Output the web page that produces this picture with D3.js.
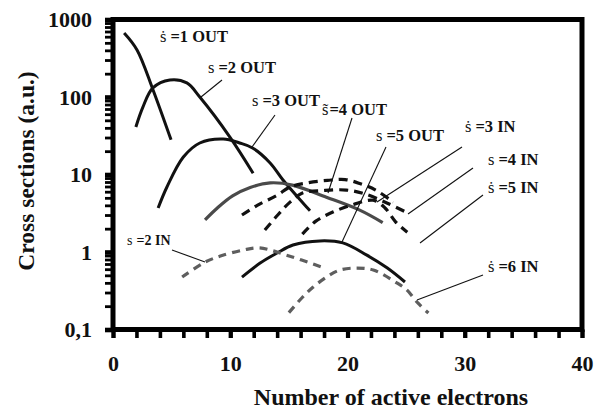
<!DOCTYPE html>
<html><head><meta charset="utf-8">
<script src="https://cdn.jsdelivr.net/npm/d3@7"></script>
<style>
html,body{margin:0;padding:0;background:#fff;}
svg{display:block;font-family:"Liberation Serif","Times New Roman",serif;}
</style></head>
<body>
<script>
// ---- data (x = number of active electrons, y = cross section, a.u.) ----
const s1Out = [[0.95,670],[2.05,405],[3.4,125],[4.95,28]];
const s2Out = [[1.95,41],[2.55,74],[3.4,131],[4.85,166],[6.3,152],[7.4,100],[10,30],[11.95,10.4]];
const s3Out = [[3.85,3.7],[4.6,6.9],[6,16.8],[7.4,25.5],[9.4,28.7],[10.8,25.5],[11.9,22],[13.4,14.1],[14.5,8.5],[16.8,3.4]];
const s4Out = [[7.85,2.6],[8.9,3.7],[10.2,5.3],[11.7,6.8],[13.4,7.8],[15.3,7.3],[18.2,5.1],[21,3.5],[23,2.4]];
const s5Out = [[11,0.475],[12.55,0.72],[14,0.97],[15.35,1.23],[17.65,1.39],[19.6,1.31],[21.65,0.91],[23.4,0.62],[24.9,0.41]];
const s2In  = [[5.9,0.475],[7.85,0.74],[9.1,0.88],[11.1,1.06],[12.5,1.13],[14.8,0.91],[17.8,0.64]];
const s3In  = [[11,3.0],[12.3,4.0],[14,5.4],[15.1,6.9],[16.6,7.8],[18.3,8.4],[19.8,8.6],[21.1,7.6],[22.4,6.3],[23.9,4.4]];
const s4In  = [[12.95,1.92],[14.05,3.0],[15.1,4.4],[16.2,5.8],[17.9,6.2],[19.9,6.3],[21.5,5.6],[23.5,4.2],[25.1,3.2]];
const s5In  = [[16.15,1.7],[17.3,2.5],[18.8,3.3],[20.5,4.1],[22.2,4.65],[23.2,3.7],[24.1,2.45],[25.1,1.8]];
const s6In  = [[15,0.165],[16.1,0.255],[17.05,0.35],[18.25,0.48],[19.35,0.585],[20.8,0.62],[22.2,0.585],[24.2,0.40],[25.05,0.325],[26,0.22],[26.9,0.163]];

const xTickValues = [0,10,20,30,40];
const xTickLabels = ["0","10","20","30","40"];
const yTickValues = [0.1,1,10,100,1000];
const yTickLabels = ["0,1","1","10","100","1000"];
const xTitle = "Number of active electrons";
const yTitle = "Cross sections (a.u.)";

// series labels: [accented s, rest]
const labelS    = ["ṡ","s","s","s̃","s","ṡ","s","ṡ","ṡ","s"];
const labelText = ["=1 OUT","=2 OUT","=3 OUT","=4 OUT","=5 OUT","=3 IN","=4 IN","=5 IN","=6 IN","=2 IN"];

// ---- layout ----
const W = 603, H = 410;
const L = 113, R = 582, T = 19.5, B = 329.5;
const ink = "#000";
const fw = 5;

const svg = d3.select("body").append("svg").attr("width", W).attr("height", H);

const x = d3.scaleLinear().domain([0,40]).range([L,R]);
const y = d3.scaleLog().domain([0.1,1000]).range([B,T]);

// curves
const line = d3.line().x(d => x(d[0])).y(d => y(d[1])).curve(d3.curveCatmullRom.alpha(0.5));
const series = [
  {d:s1Out, c:"#111", w:3, dash:null},
  {d:s2Out, c:"#111", w:3, dash:null},
  {d:s3Out, c:"#111", w:3, dash:null},
  {d:s4Out, c:"#4a4a4a", w:3.2, dash:null},
  {d:s5Out, c:"#111", w:3, dash:null},
  {d:s2In,  c:"#5e5e5e", w:3.2, dash:"8,6"},
  {d:s6In,  c:"#5e5e5e", w:3.2, dash:"8,6"},
  {d:s3In,  c:"#111", w:3.2, dash:"9,6"},
  {d:s4In,  c:"#111", w:3.2, dash:"9,6"},
  {d:s5In,  c:"#111", w:3.2, dash:"9,6"}
];
svg.append("g").selectAll("path").data(series).join("path")
  .attr("d", s => line(s.d))
  .attr("fill","none")
  .attr("stroke", s => s.c)
  .attr("stroke-width", s => s.w)
  .attr("stroke-dasharray", s => s.dash)
  .attr("stroke-linecap","butt");

// pointer lines (annotation layout, px)
const pointers = [[222,80,201,97],[275,115,252,147],[352,118,328,193],[386,147,342,242],
                  [462,147,377,202],[473,168,408,214],[483,195,420,243],[483,275,417,300],[172,250,205,262]];
svg.append("g").selectAll("line").data(pointers).join("line")
  .attr("x1",d=>d[0]).attr("y1",d=>d[1]).attr("x2",d=>d[2]).attr("y2",d=>d[3])
  .attr("stroke","#111").attr("stroke-width",1.1);

// series labels (annotation layout, px)
const labelPos = [[160,42,16.5],[208,73,16.5],[252,106,16.5],[322,115,16.5],[376,141,16.5],
                  [465,132,16.5],[488,165,16.5],[488,193,16.5],[488,272,16.5],[127,245,14]];
const lg = svg.append("g").attr("fill","#111");
labelText.forEach((t,i) => {
  const p = labelPos[i];
  const tx = lg.append("text").attr("x",p[0]).attr("y",p[1]).attr("font-size",p[2]);
  tx.append("tspan").attr("font-weight","normal").text(labelS[i]);
  tx.append("tspan").attr("font-weight","bold").attr("dx", i===3 ? 1 : 4).text(t);
});

// y ticks
const yMinor = [];
[0.1,1,10,100].forEach(dd => { for (let k=2;k<=9;k++) yMinor.push(dd*k); });
const gyMin = svg.append("g").attr("transform",`translate(${L},0)`)
  .call(d3.axisLeft(y).tickValues(yMinor).tickSize(8).tickFormat(""));
gyMin.select(".domain").remove();
gyMin.selectAll(".tick line").attr("stroke-width",2.8).attr("stroke",ink);

const gy = svg.append("g").attr("transform",`translate(${L},0)`)
  .call(d3.axisLeft(y).tickValues(yTickValues).tickSize(8).tickPadding(13)
    .tickFormat((d,i) => yTickLabels[i]));
gy.select(".domain").remove();
gy.selectAll(".tick line").attr("stroke-width",4.6).attr("stroke",ink);
gy.selectAll(".tick text").attr("font-family","Liberation Serif, serif").attr("font-weight","bold")
  .attr("font-size",22).attr("fill","#111").attr("dy","0.34em");

// x ticks
const gxMin = svg.append("g").attr("transform",`translate(0,${B})`)
  .call(d3.axisBottom(x).tickValues(d3.range(0,41,2)).tickSize(8.5).tickFormat(""));
gxMin.select(".domain").remove();
gxMin.selectAll(".tick line").attr("stroke-width",3.6).attr("stroke",ink);

const gx = svg.append("g").attr("transform",`translate(0,${B})`)
  .call(d3.axisBottom(x).tickValues(xTickValues).tickSize(8.5).tickPadding(17)
    .tickFormat((d,i) => xTickLabels[i]));
gx.select(".domain").remove();
gx.selectAll(".tick line").attr("stroke-width",4.2).attr("stroke",ink);
gx.selectAll(".tick text").attr("font-family","Liberation Serif, serif").attr("font-weight","bold")
  .attr("font-size",22).attr("fill","#111");

// titles
svg.append("text").attr("x",391).attr("y",405).attr("text-anchor","middle").attr("fill","#111")
  .attr("font-weight","bold").attr("font-size",24).text(xTitle);
svg.append("text").attr("transform","translate(34,171) rotate(-90)").attr("text-anchor","middle").attr("fill","#111")
  .attr("font-weight","bold").attr("font-size",23.5).text(yTitle);

// frame drawn last, on top
svg.append("path")
  .attr("d", `M${L},${T}H${R}V${B}H${L}Z`)
  .attr("fill","none").attr("stroke",ink).attr("stroke-width",fw)
  .attr("stroke-linejoin","miter");
</script>
</body></html>
